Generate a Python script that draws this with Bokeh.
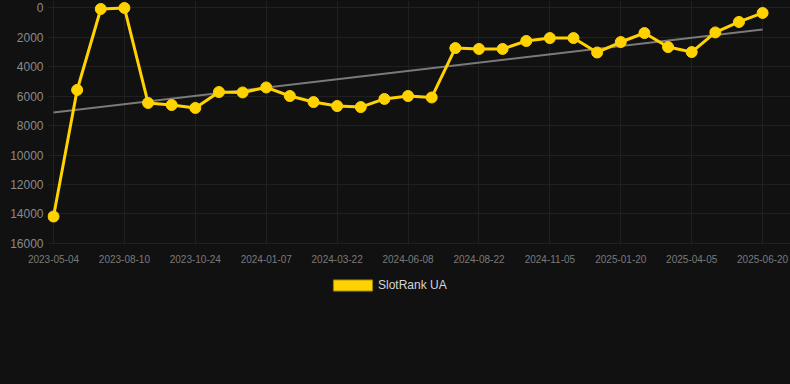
from bokeh.plotting import figure
from bokeh.layouts import column
from bokeh.models import Range1d, FixedTicker, Legend, LegendItem, ColumnDataSource
from bokeh.embed import file_html
from bokeh.resources import INLINE

# ---- data ----
rank = [14170, 5590, 100, 30, 6470, 6610, 6810, 5730, 5760, 5420,
        6000, 6410, 6680, 6750, 6200, 6000, 6100, 2750, 2810, 2810,
        2270, 2070, 2070, 3050, 2340, 1730, 2680, 3020, 1690, 980, 370]
tick_labels = ["2023-05-04", "2023-08-10", "2023-10-24", "2024-01-07",
               "2024-03-22", "2024-06-08", "2024-08-22", "2024-11-05",
               "2025-01-20", "2025-04-05", "2025-06-20"]
trend_values = [7120, 1490]
series_name = "SlotRank UA"
y_ticks = [0, 2000, 4000, 6000, 8000, 10000, 12000, 14000, 16000]

idx = list(range(len(rank)))
tick_pos = list(range(0, len(rank), 3))

BG = "#111111"
GOLD = "#FFD200"
FONT = "Liberation Sans"

p = figure(width=790, height=272, output_backend="svg", toolbar_location=None,
           x_range=Range1d(-0.254, 31.18), y_range=Range1d(16068, -475),
           min_border_left=47, min_border_right=0, min_border_top=0,
           min_border_bottom=28)
p.background_fill_color = BG
p.border_fill_color = BG
p.outline_line_color = None

# grid
p.xgrid.ticker = FixedTicker(ticks=tick_pos)
p.ygrid.ticker = FixedTicker(ticks=y_ticks)
p.grid.grid_line_color = "#202020"
p.grid.grid_line_width = 1

# axes
p.xaxis.ticker = FixedTicker(ticks=tick_pos)
p.xaxis.major_label_overrides = {t: lab for t, lab in zip(tick_pos, tick_labels)}
p.yaxis.ticker = FixedTicker(ticks=y_ticks)
for ax in (p.xaxis[0], p.yaxis[0]):
    ax.axis_line_color = None
    ax.major_tick_line_color = None
    ax.minor_tick_line_color = None
    ax.major_tick_out = 0
    ax.major_tick_in = 0
    ax.major_label_text_font = FONT
p.xaxis.major_label_text_font_size = "10px"
p.xaxis.major_label_text_color = "#7a7a7a"
p.xaxis.major_label_standoff = 10
p.yaxis.major_label_text_font_size = "12px"
p.yaxis.major_label_text_color = "#8a8a8a"
p.yaxis.major_label_standoff = 4

# trend line
p.line(x=[idx[0], idx[-1]], y=trend_values, line_color="#7a7a7a", line_width=2)

# series
src = ColumnDataSource(dict(x=idx, y=rank))
p.line("x", "y", source=src, line_color=GOLD, line_width=3)
p.scatter("x", "y", source=src, size=11, fill_color=GOLD, line_color=GOLD)

# legend in a separate strip below the chart
lg = figure(width=790, height=112, output_backend="svg", toolbar_location=None,
            x_range=Range1d(0, 1), y_range=Range1d(0, 1),
            x_axis_location=None, y_axis_location=None,
            min_border_left=0, min_border_right=0, min_border_top=0, min_border_bottom=0)
lg.background_fill_color = BG
lg.border_fill_color = BG
lg.outline_line_color = None
lg.grid.visible = False
# swatch renderer: its quad lies outside the visible range, only the legend shows it
sw = lg.quad(left=[5], right=[6], top=[6], bottom=[5], fill_color=GOLD, line_color="#9a7e00")
legend = Legend(items=[LegendItem(label=series_name, renderers=[sw])],
                location=(281, 92), orientation="horizontal",
                glyph_width=49, glyph_height=14, label_standoff=1,
                label_text_font=FONT, label_text_font_size="12px",
                label_text_color="#d6d6d6", background_fill_alpha=0,
                border_line_color=None, padding=2, margin=0)
lg.add_layout(legend)

layout = column(p, lg, spacing=0)

template = """{% block preamble %}<style>html, body { background-color: #111111; }</style>{% endblock %}"""
open("out.html", "w").write(file_html(layout, INLINE, template=template))
